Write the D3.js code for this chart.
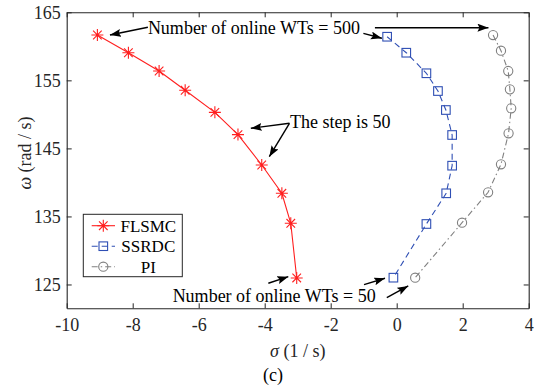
<!DOCTYPE html>
<html>
<head>
<meta charset="utf-8">
<script src="https://cdn.jsdelivr.net/npm/d3@7"></script>
<style>
  html, body { margin: 0; padding: 0; background: #fff; }
  svg { display: block; font-family: "Liberation Serif", "Times New Roman", serif; }
</style>
</head>
<body>
<svg id="chart" width="543" height="385"></svg>
<script>
// ---- data ----
const seriesNames = ["FLSMC", "SSRDC", "PI"];
const flsmcSigma = [-9.07, -8.13, -7.20, -6.41, -5.51, -4.81, -4.09, -3.48, -3.21, -3.03];
const flsmcOmega = [161.66, 159.06, 156.37, 153.54, 150.30, 147.03, 142.56, 138.40, 133.99, 125.96];
const ssrdcSigma = [-0.29, 0.29, 0.90, 1.25, 1.49, 1.68, 1.68, 1.50, 0.90, -0.10];
const ssrdcOmega = [161.41, 159.06, 156.04, 153.43, 150.64, 146.97, 142.46, 138.40, 133.89, 126.00];
const piSigma = [2.92, 3.16, 3.38, 3.43, 3.47, 3.39, 3.16, 2.77, 1.98, 0.56];
const piOmega = [161.66, 159.36, 156.37, 153.68, 150.89, 147.22, 142.66, 138.55, 134.08, 126.00];
const xTicks = [-10, -8, -6, -4, -2, 0, 2, 4];
const yTicks = [125, 135, 145, 155, 165];
const xDomain = [-10, 4];
const yDomain = [121.5, 165];
const annotationTexts = ["Number of online WTs = 500", "The step is 50", "Number of online WTs = 50"];
const textAnchorsSigma = [-7.54, -3.23, -6.79];
const textAnchorsOmega = [161.85, 148.07, 122.47];
// arrows: [sigmaFrom, omegaFrom, sigmaTo, omegaTo]
const arrows = [
  [-7.54, 162.80, -8.69, 161.66],
  [-1.01, 161.91, -0.45, 161.18],
  [-0.66, 162.74, 2.78, 162.74],
  [-3.25, 148.69, -4.42, 147.95],
  [-3.25, 148.69, -3.86, 143.78],
  [-3.89, 125.18, -3.285, 126.15],
  [-0.99, 124.99, -0.355, 125.91],
  [-0.30, 123.06, 0.35, 124.78]
];

// ---- layout ----
const W = 543, H = 385;
const margin = { left: 66.7, right: 14.3, top: 12.3, bottom: 76.7 };
const svg = d3.select("#chart");
const x = d3.scaleLinear().domain(xDomain).range([margin.left, W - margin.right]);
const y = d3.scaleLinear().domain(yDomain).range([H - margin.bottom, margin.top]);

const axisColor = "#262626";
const colors = ["#ff1f1f", "#2f4fb4", "#808080"];
const dashes = [null, "6,4", "6,3,1.5,3"];

const defs = svg.append("defs");
defs.append("marker")
  .attr("id", "ah").attr("markerUnits", "userSpaceOnUse")
  .attr("markerWidth", 12).attr("markerHeight", 10)
  .attr("refX", 11).attr("refY", 4).attr("orient", "auto")
  .append("path").attr("d", "M0,0 L11,4 L0,8 L2,4 Z").attr("fill", "#000");

// ---- axes ----
const fmt = d => String(d);
const gx = svg.append("g").attr("transform", `translate(0,${y.range()[0]})`)
  .call(d3.axisBottom(x).tickValues(xTicks).tickFormat(fmt).tickSizeInner(-5).tickSizeOuter(0).tickPadding(10));
const gxTop = svg.append("g").attr("transform", `translate(0,${y.range()[1]})`)
  .call(d3.axisTop(x).tickValues(xTicks).tickFormat("").tickSizeInner(-5).tickSizeOuter(0));
const gy = svg.append("g").attr("transform", `translate(${x.range()[0]},0)`)
  .call(d3.axisLeft(y).tickValues(yTicks).tickFormat(fmt).tickSizeInner(-5).tickSizeOuter(0).tickPadding(6));
const gyR = svg.append("g").attr("transform", `translate(${x.range()[1]},0)`)
  .call(d3.axisRight(y).tickValues(yTicks).tickFormat("").tickSizeInner(-5).tickSizeOuter(0));

[gx, gxTop, gy, gyR].forEach(g => {
  g.selectAll("path.domain").attr("stroke", axisColor).attr("stroke-width", 1.1);
  g.selectAll(".tick line").attr("stroke", axisColor).attr("stroke-width", 1);
  g.selectAll(".tick text").attr("fill", axisColor).style("font-size", "18px")
    .style("font-family", '"Liberation Serif", "Times New Roman", serif');
});
gx.selectAll(".tick text").attr("dy", "0.71em");

// axis labels
const xl = svg.append("text").attr("x", (x.range()[0] + x.range()[1]) / 2).attr("y", 357)
  .attr("text-anchor", "middle").style("font-size", "18px").attr("fill", axisColor);
xl.append("tspan").style("font-style", "italic").text("σ");
xl.append("tspan").text(" (1 / s)");

const yl = svg.append("text").attr("transform", "translate(31,153) rotate(-90)")
  .attr("text-anchor", "middle").style("font-size", "18px").attr("fill", axisColor);
yl.append("tspan").style("font-style", "italic").text("ω");
yl.append("tspan").text(" (rad / s)");

svg.append("text").attr("x", 273).attr("y", 381).attr("text-anchor", "middle")
  .style("font-size", "18px").attr("fill", "#000").text("(c)");

// ---- series ----
const series = [
  { name: seriesNames[0], s: flsmcSigma, w: flsmcOmega },
  { name: seriesNames[1], s: ssrdcSigma, w: ssrdcOmega },
  { name: seriesNames[2], s: piSigma, w: piOmega }
];
const line = d3.line().x(d => x(d[0])).y(d => y(d[1]));

function drawMarker(g, i, cx, cy) {
  if (i === 0) {
    const r = 6, d = 4.3;
    g.append("path").attr("transform", `translate(${cx},${cy})`)
      .attr("d", `M${-r},0H${r}M0,${-r}V${r}M${-d},${-d}L${d},${d}M${-d},${d}L${d},${-d}`)
      .attr("stroke", colors[0]).attr("stroke-width", 1.1).attr("fill", "none");
  } else if (i === 1) {
    g.append("rect").attr("x", cx - 4.3).attr("y", cy - 4.3).attr("width", 8.6).attr("height", 8.6)
      .attr("stroke", colors[1]).attr("stroke-width", 1.1).attr("fill", "none");
  } else {
    g.append("circle").attr("cx", cx).attr("cy", cy).attr("r", 4.6)
      .attr("stroke", colors[2]).attr("stroke-width", 1.1).attr("fill", "none");
  }
}

series.forEach((sr, i) => {
  const pts = sr.s.map((v, k) => [v, sr.w[k]]);
  const g = svg.append("g");
  g.append("path").datum(pts).attr("d", line).attr("fill", "none")
    .attr("stroke", colors[i]).attr("stroke-width", 1.1)
    .attr("stroke-dasharray", dashes[i]);
  pts.forEach(p => drawMarker(g, i, x(p[0]), y(p[1])));
});

// ---- annotations ----
arrows.forEach(a => {
  svg.append("line").attr("x1", x(a[0])).attr("y1", y(a[1])).attr("x2", x(a[2])).attr("y2", y(a[3]))
    .attr("stroke", "#000").attr("stroke-width", 1.4).attr("marker-end", "url(#ah)");
});
annotationTexts.forEach((t, i) => {
  svg.append("text").attr("x", x(textAnchorsSigma[i])).attr("y", y(textAnchorsOmega[i]))
    .style("font-size", "18px").attr("fill", "#000").text(t);
});

// ---- legend ----
const lg = svg.append("g");
lg.append("rect").attr("x", 83.3).attr("y", 214.3).attr("width", 99).attr("height", 62.4)
  .attr("fill", "#fff").attr("stroke", axisColor).attr("stroke-width", 1);
series.forEach((sr, i) => {
  const cy = 225.7 + i * 20.5;
  lg.append("line").attr("x1", 91.7).attr("x2", 115).attr("y1", cy).attr("y2", cy)
    .attr("stroke", colors[i]).attr("stroke-width", 1.1).attr("stroke-dasharray", dashes[i]);
  drawMarker(lg, i, 103.3, cy);
  lg.append("text").attr("x", 148.3).attr("y", cy).attr("dy", "0.35em")
    .attr("text-anchor", "middle").style("font-size", "17px").attr("fill", "#000").text(sr.name);
});
</script>
</body>
</html>
